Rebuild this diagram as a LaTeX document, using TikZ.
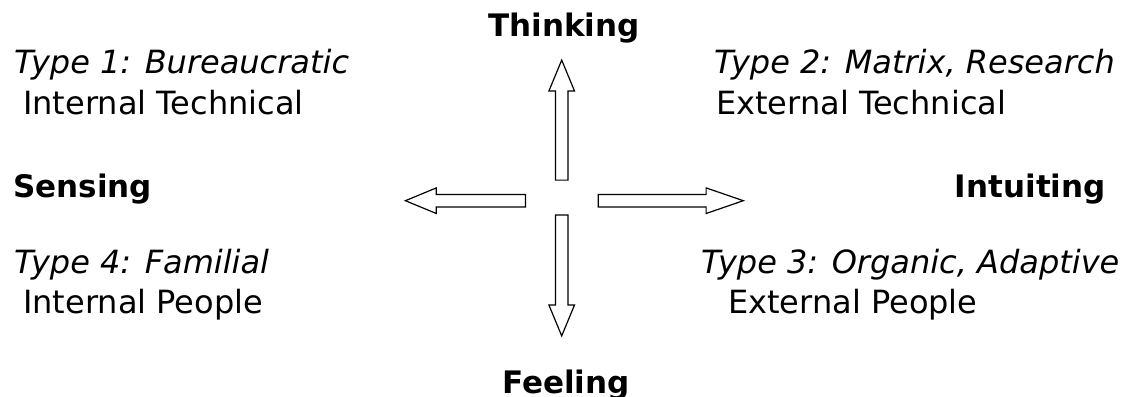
\documentclass[tikz,border=0pt]{standalone}
\usepackage{fontspec}
\setmainfont{DejaVu Sans}
\usetikzlibrary{shapes.arrows}

\begin{document}
\begin{tikzpicture}[
    x=1pt, y=-1pt,
    txt/.style  = { inner sep=0pt, anchor=base west, font=\fontsize{32}{38}\selectfont },
    axis/.style = { inner sep=0pt, font=\fontsize{31}{37}\selectfont\bfseries },
    bigarrow/.style = { single arrow, draw, line width=1.2pt, inner xsep=0pt, inner ysep=5.6pt,
                        minimum width=0pt, single arrow head extend=6.6pt,
                        single arrow tip angle=45, anchor=tail },
    ]

    \useasboundingbox (0,0) rectangle (1126,396);

    % arrows round the centre
    \node[bigarrow, rotate=90,  minimum height=120pt] (up)    at (561.7,180.7) {};
    \node[bigarrow, rotate=-90, minimum height=121pt] (down)  at (561.7,214.3) {};
    \node[bigarrow, rotate=180, minimum height=120pt] (left)  at (526.0,200.7) {};
    \node[bigarrow, minimum height=145pt, single arrow tip angle=38] (right) at (597.7,200.7) {};

    % axis names
    \node[axis, anchor=base]      (think)  at (564,37)   {Thinking};
    \node[axis, anchor=base]      (feel)   at (566,393)  {Feeling};
    \node[axis, anchor=base west] (sense)  at (13,197)   {Sensing};
    \node[axis, anchor=base east] (intuit) at (1106,197) {Intuiting};

    % quadrants
    \node[txt] (t1)  at (14,74)   {\itshape Type 1: Bureaucratic};
    \node[txt] (t1b) at (23,114)  {Internal Technical};
    \node[txt] (t2)  at (714,74)  {\itshape Type 2: Matrix, Research};
    \node[txt] (t2b) at (716,114) {External Technical};
    \node[txt] (t4)  at (14,273)  {\itshape Type 4: Familial};
    \node[txt] (t4b) at (23,313)  {Internal People};
    \node[txt] (t3)  at (701,273) {\itshape Type 3: Organic, Adaptive};
    \node[txt] (t3b) at (728,313) {External People};

\end{tikzpicture}
\end{document}
